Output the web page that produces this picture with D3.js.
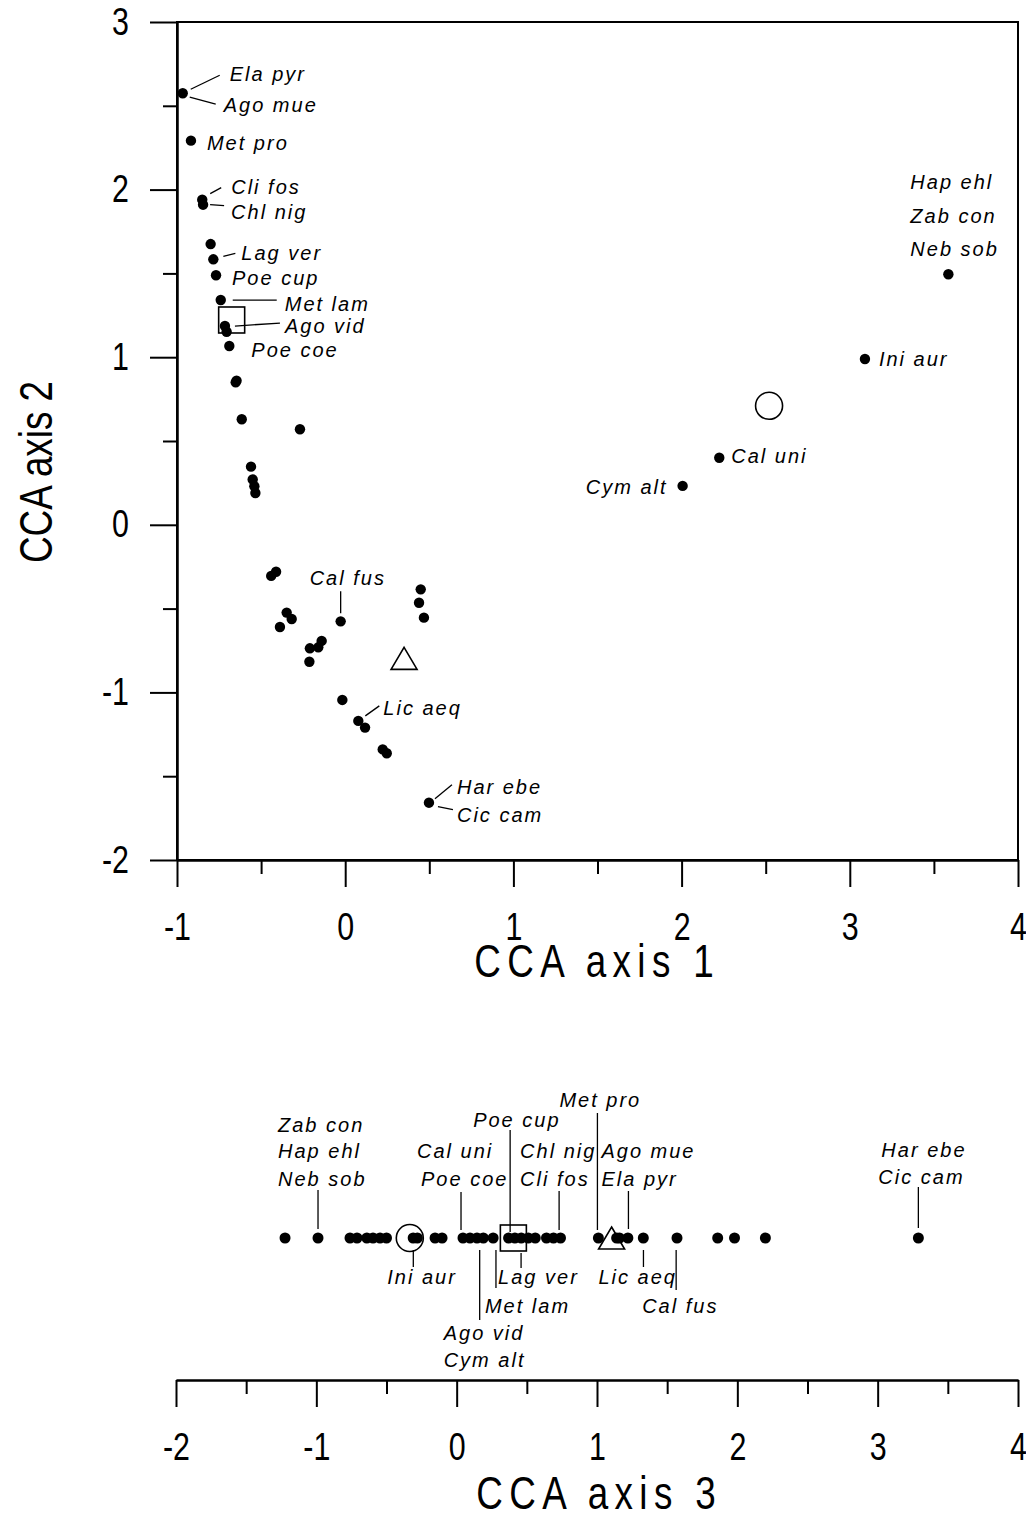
<!DOCTYPE html>
<html>
<head>
<meta charset="utf-8">
<script src="https://cdn.jsdelivr.net/npm/d3@7"></script>
<style>
  body { margin: 0; background: #fff; }
  svg text { fill: #000; }
  .tick text { font-family: "Liberation Sans", Arial, sans-serif; font-size: 38px; }
  .title { font-family: "Liberation Sans", Arial, sans-serif; font-size: 46px; }
  .sp { font-family: "Liberation Sans", Arial, sans-serif; font-style: italic; font-size: 20px; letter-spacing: 2px; }
</style>
</head>
<body>
<svg id="chart" width="1026" height="1521"></svg>
<script>
"use strict";

// species scores on CCA axes 1 and 2 (one entry per dot)
const axis1Scores = [
  -0.966, -0.917, -0.85, -0.845, -0.80, -0.784, -0.768, -0.74, -0.715, -0.705,
  -0.689, -0.651, -0.646, -0.615, -0.269, -0.56, -0.55, -0.54, -0.534, -0.44,
  -0.411, -0.348, -0.318, -0.388, -0.027, -0.21, -0.16, -0.14, -0.213, -0.017,
  0.078, 0.118, 0.223, 0.247, 0.449, 0.439, 0.468, 0.498, 2.006, 2.224,
  3.09, 3.586
];
const axis2Scores = [
  2.575, 2.292, 1.94, 1.91, 1.675, 1.584, 1.489, 1.341, 1.186, 1.152,
  1.067, 0.85, 0.86, 0.63, 0.57, 0.347, 0.27, 0.23, 0.19, -0.305,
  -0.28, -0.524, -0.562, -0.61, -0.576, -0.737, -0.731, -0.693, -0.817, -1.045,
  -1.17, -1.21, -1.34, -1.363, -0.385, -0.465, -0.554, -1.658, 0.232, 0.40,
  0.989, 1.495
];

// species scores on CCA axis 3
const axis3Scores = [
  -1.223, -0.988, -0.76, -0.71, -0.64, -0.596, -0.546, -0.50, -0.31, -0.28,
  -0.154, -0.104, 0.045, 0.095, 0.145, 0.19, 0.26, 0.37, 0.415, 0.46,
  0.51, 0.56, 0.64, 0.69, 0.74, 1.01, 1.14, 1.16, 1.22, 1.33,
  1.57, 1.86, 1.98, 2.20, 3.29
];

// group centroids
const centroidShapes = ["square", "circle", "triangle"];
const centroidAxis1 = [-0.675, 2.52, 0.35];
const centroidAxis2 = [1.222, 0.71, -0.797];
const centroidAxis3 = [0.404, -0.334, 1.104];

// labelled species on axes 1/2
const labelNames12 = [
  "Ela pyr", "Ago mue", "Met pro", "Cli fos", "Chl nig", "Lag ver", "Poe cup",
  "Met lam", "Ago vid", "Poe coe", "Cal fus", "Lic aeq", "Har ebe", "Cic cam",
  "Cym alt", "Cal uni", "Ini aur", "Hap ehl", "Zab con", "Neb sob"
];
const labelAxis1 = [
  -0.966, -0.966, -0.917, -0.85, -0.845, -0.784, -0.768,
  -0.74, -0.715, -0.689, -0.027, 0.078, 0.498, 0.498,
  2.006, 2.224, 3.09, 3.586, 3.586, 3.586
];
const labelAxis2 = [
  2.575, 2.575, 2.292, 1.94, 1.91, 1.584, 1.489,
  1.341, 1.186, 1.067, -0.576, -1.17, -1.658, -1.658,
  0.232, 0.40, 0.989, 1.495, 1.495, 1.495
];

// labelled species groups on axis 3
const labelGroups3 = [
  ["Zab con", "Hap ehl", "Neb sob"],
  ["Cal uni", "Poe coe"],
  ["Poe cup"],
  ["Chl nig", "Cli fos"],
  ["Met pro"],
  ["Ago mue", "Ela pyr"],
  ["Har ebe", "Cic cam"],
  ["Ini aur"],
  ["Ago vid", "Cym alt"],
  ["Met lam"],
  ["Lag ver"],
  ["Lic aeq"],
  ["Cal fus"]
];
const labelAxis3 = [-0.988, 0.031, 0.381, 0.73, 1.003, 1.224, 3.29, -0.309, 0.164, 0.28, 0.459, 1.331, 1.564];

const majorTicks12x = [-1, 0, 1, 2, 3, 4];
const majorTicks12y = [-2, -1, 0, 1, 2, 3];
const majorTicks3 = [-2, -1, 0, 1, 2, 3, 4];

// label placement (pixels, relative to the anchor point)
const layout12 = {
  "Ela pyr": { dx: 47, dy: -12, line: [8, -4, 37, -18] },
  "Ago mue": { dx: 41, dy: 19, line: [7, 4, 33, 11] },
  "Met pro": { dx: 16, dy: 9 },
  "Cli fos": { dx: 29, dy: -6, line: [8, -6, 19, -12] },
  "Chl nig": { dx: 28, dy: 14, line: [7, 0, 21, 1] },
  "Lag ver": { dx: 28, dy: 1, line: [10, -3, 22, -6] },
  "Poe cup": { dx: 16, dy: 10 },
  "Met lam": { dx: 64, dy: 11, line: [12, 0, 56, 0] },
  "Ago vid": { dx: 60, dy: 7, line: [10, 0, 55, -3] },
  "Poe coe": { dx: 22, dy: 11 },
  "Cal fus": { dx: -31, dy: -36, line: [0, -30, 0, -8] },
  "Lic aeq": { dx: 25, dy: -6, line: [7, -5, 21, -15] },
  "Har ebe": { dx: 28, dy: -9, line: [6, -4, 23, -18] },
  "Cic cam": { dx: 28, dy: 19, line: [9, 4, 24, 7] },
  "Cym alt": { dx: -15, dy: 8, anchor: "end" },
  "Cal uni": { dx: 12, dy: 5 },
  "Ini aur": { dx: 14, dy: 7 },
  "Hap ehl": { dx: -38, dy: -85 },
  "Zab con": { dx: -38, dy: -51 },
  "Neb sob": { dx: -38, dy: -18 }
};
// axis-3 groups: text x offsets per line, baselines, leader span
const layout3 = [
  { dx: [-40, -40, -40], dy: [-106, -80, -52], line: [-48, -9] },
  { dx: [-44, -40], dy: [-80, -52], line: [-46, -8] },
  { dx: [-37], dy: [-111], line: [-108, -6] },
  { dx: [-39, -39], dy: [-80, -52], line: [-47, -8] },
  { dx: [-38], dy: [-131], line: [-125, -8] },
  { dx: [-27, -27], dy: [-80, -52], line: [-47, -9] },
  { dx: [-37, -40], dy: [-81, -54], line: [-51, -10] },
  { dx: [-26], dy: [46], line: [12, 29] },
  { dx: [-36, -36], dy: [102, 129], line: [12, 82] },
  { dx: [-11], dy: [75], line: [12, 50] },
  { dx: [-23], dy: [46], line: [15, 30] },
  { dx: [-45], dy: [46], line: [12, 29] },
  { dx: [-34], dy: [75], line: [12, 52] }
];

const svg = d3.select("#chart");

const x12 = d3.scaleLinear().domain([-1, 4]).range([177, 1018]);
const y12 = d3.scaleLinear().domain([-2, 3]).range([860, 22]);
const x3 = d3.scaleLinear().domain([-2, 4]).range([176, 1018]);
const stripY = 1238;
const axis3Y = 1380;
const narrow = 0.8; // horizontal squeeze to mimic a narrow sans

const halves = (ticks) => d3.pairs(ticks).map(([a, b]) => (a + b) / 2);
const fmt = (d) => String(d);

function styleAxis(g) {
  g.selectAll("path, line").attr("stroke", "#000").attr("stroke-width", 2);
  g.selectAll("text").attr("fill", "#000");
}

// squeeze tick labels around their own anchor point
function narrowTicks(g) {
  g.selectAll(".tick text").each(function () {
    const t = d3.select(this);
    const tx = +t.attr("x") || 0;
    t.attr("x", 0).attr("transform", `translate(${tx},0) scale(${narrow},1)`);
  });
}

function title(g, text, x, y, rotate, spacing) {
  g.append("text").attr("class", "title")
    .attr("transform", `translate(${x},${y}) rotate(${rotate}) scale(${narrow},1)`)
    .attr("text-anchor", "middle")
    .style("letter-spacing", spacing + "px")
    .attr("dx", spacing / 2)
    .text(text);
}

function drawCentroid(g, shape, cx, cy) {
  const s = 13;
  let el;
  if (shape === "square") {
    el = g.append("rect").attr("x", cx - s).attr("y", cy - s).attr("width", 2 * s).attr("height", 2 * s);
  } else if (shape === "circle") {
    el = g.append("circle").attr("cx", cx).attr("cy", cy).attr("r", 13.5);
  } else {
    const h = 22;
    el = g.append("path").attr("d", `M${cx},${cy - h / 2}L${cx + s},${cy + h / 2}L${cx - s},${cy + h / 2}Z`);
  }
  el.attr("fill", "none").attr("stroke", "#000").attr("stroke-width", 1.6);
}

// ---------- axes 1 & 2 ----------
const plot12 = svg.append("g");

plot12.append("rect")
  .attr("x", x12(-1)).attr("y", y12(3))
  .attr("width", x12(4) - x12(-1)).attr("height", y12(-2) - y12(3))
  .attr("fill", "none").attr("stroke", "#000").attr("stroke-width", 2);

plot12.append("g").attr("transform", `translate(0,${y12(-2)})`)
  .call(d3.axisBottom(x12).tickValues(halves(majorTicks12x)).tickSize(14).tickFormat("").tickSizeOuter(0))
  .call(styleAxis);
plot12.append("g").attr("transform", `translate(0,${y12(-2)})`)
  .call(d3.axisBottom(x12).tickValues(majorTicks12x).tickSize(27).tickPadding(26).tickFormat(fmt).tickSizeOuter(0))
  .call(styleAxis).call(narrowTicks);

plot12.append("g").attr("transform", `translate(${x12(-1)},0)`)
  .call(d3.axisLeft(y12).tickValues(halves(majorTicks12y)).tickSize(14).tickFormat("").tickSizeOuter(0))
  .call(styleAxis);
plot12.append("g").attr("transform", `translate(${x12(-1)},0)`)
  .call(d3.axisLeft(y12).tickValues(majorTicks12y).tickSize(27).tickPadding(21).tickFormat(fmt).tickSizeOuter(0))
  .call(styleAxis).call(narrowTicks);

title(plot12, "CCA axis 1", 594, 977, 0, 8);
title(plot12, "CCA axis 2", 52, 472, -90, 0);

plot12.append("g").selectAll("circle")
  .data(d3.zip(axis1Scores, axis2Scores))
  .join("circle")
  .attr("cx", (d) => x12(d[0])).attr("cy", (d) => y12(d[1]))
  .attr("r", 5.2).attr("fill", "#000");

centroidShapes.forEach((s, i) => drawCentroid(plot12, s, x12(centroidAxis1[i]), y12(centroidAxis2[i])));

labelNames12.forEach((name, i) => {
  const px = x12(labelAxis1[i]);
  const py = y12(labelAxis2[i]);
  const l = layout12[name];
  if (l.line) {
    plot12.append("line")
      .attr("x1", px + l.line[0]).attr("y1", py + l.line[1])
      .attr("x2", px + l.line[2]).attr("y2", py + l.line[3])
      .attr("stroke", "#000").attr("stroke-width", 1.3);
  }
  plot12.append("text").attr("class", "sp")
    .attr("x", px + l.dx).attr("y", py + l.dy)
    .attr("text-anchor", l.anchor || "start")
    .text(name);
});

// ---------- axis 3 ----------
const strip3 = svg.append("g");

strip3.append("g").attr("transform", `translate(0,${axis3Y})`)
  .call(d3.axisBottom(x3).tickValues(halves(majorTicks3)).tickSize(14).tickFormat("").tickSizeOuter(0))
  .call(styleAxis);
strip3.append("g").attr("transform", `translate(0,${axis3Y})`)
  .call(d3.axisBottom(x3).tickValues(majorTicks3).tickSize(27).tickPadding(26).tickFormat(fmt).tickSizeOuter(0))
  .call(styleAxis).call(narrowTicks);

title(strip3, "CCA axis 3", 596, 1509, 0, 8);

strip3.append("g").selectAll("circle")
  .data(axis3Scores)
  .join("circle")
  .attr("cx", (d) => x3(d)).attr("cy", stripY)
  .attr("r", 5.5).attr("fill", "#000");

centroidShapes.forEach((s, i) => drawCentroid(strip3, s, x3(centroidAxis3[i]), stripY));

labelGroups3.forEach((names, i) => {
  const px = x3(labelAxis3[i]);
  const l = layout3[i];
  strip3.append("line")
    .attr("x1", px).attr("x2", px)
    .attr("y1", stripY + l.line[0]).attr("y2", stripY + l.line[1])
    .attr("stroke", "#000").attr("stroke-width", 1.3);
  names.forEach((name, j) => {
    strip3.append("text").attr("class", "sp")
      .attr("x", px + l.dx[j]).attr("y", stripY + l.dy[j])
      .text(name);
  });
});
</script>
</body>
</html>
